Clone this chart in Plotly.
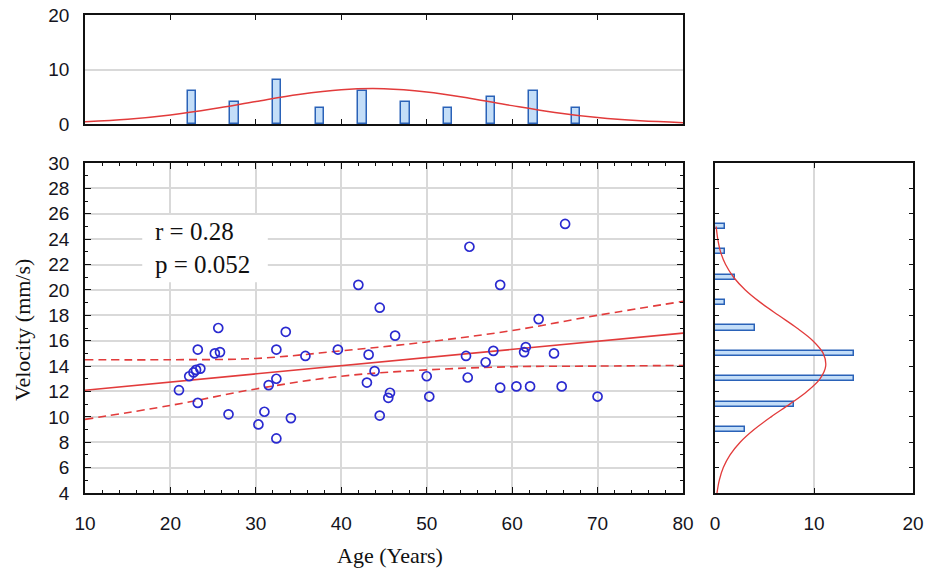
import plotly.graph_objects as go

# ---------------- data ----------------
age = [21.0, 22.2, 22.7, 23.0, 23.5, 23.2, 23.2, 25.6, 25.2, 25.8, 26.8, 30.3, 31.0, 31.5, 32.4, 32.4, 32.4, 33.5, 34.1, 35.8,
       42.0, 44.5, 46.3, 39.6, 43.2, 43.9, 43.0, 45.7, 45.5, 44.5, 50.0, 50.3,
       66.2, 55.0, 58.6, 63.1, 54.6, 57.8, 56.9, 54.8, 61.6, 61.4, 64.9, 58.6, 60.5, 62.1, 65.8, 70.0]
velocity = [12.1, 13.2, 13.5, 13.7, 13.8, 15.3, 11.1, 17.0, 15.0, 15.1, 10.2, 9.4, 10.4, 12.5, 13.0, 15.3, 8.3, 16.7, 9.9, 14.8,
            20.4, 18.6, 16.4, 15.3, 14.9, 13.6, 12.7, 11.9, 11.5, 10.1, 13.2, 11.6,
            25.2, 23.4, 20.4, 17.7, 14.8, 15.2, 14.3, 13.1, 15.5, 15.1, 15.0, 12.3, 12.4, 12.4, 12.4, 11.6]

fit_x = [10, 80]
fit_y = [12.1, 16.6]
band_x = [10, 20, 30, 40, 50, 60, 70, 80]
band_upper = [14.5, 14.5, 14.6, 15.2, 15.9, 16.8, 18.0, 19.1]
band_lower = [9.8, 10.9, 12.2, 13.2, 13.7, 13.95, 14.0, 14.05]

age_bins = [22.5, 27.5, 32.5, 37.5, 42.5, 47.5, 52.5, 57.5, 62.5, 67.5]
age_counts = [6, 4, 8, 3, 6, 4, 3, 5, 6, 3]
age_curve_x = [10, 15, 20, 25, 30, 35, 40, 45, 50, 55, 60, 65, 70, 75, 80]
age_curve_y = [0.41, 0.88, 1.67, 2.79, 4.14, 5.43, 6.30, 6.47, 5.88, 4.73, 3.37, 2.12, 1.18, 0.58, 0.25]

vel_bins = [9, 11, 13, 15, 17, 19, 21, 23, 25]
vel_counts = [3, 8, 14, 14, 4, 1, 2, 1, 1]
vel_curve_y = [4, 5, 6, 7, 8, 9, 10, 11, 12, 13, 14, 15, 16, 17, 18, 19, 20, 21, 22, 23, 24, 25]
vel_curve_x = [0.20, 0.43, 0.84, 1.52, 2.54, 3.95, 5.67, 7.55, 9.29, 10.6, 11.18, 10.93, 9.88, 8.27,
               6.42, 4.61, 3.06, 1.88, 1.07, 0.56, 0.28, 0.12]

stats_text = "r = 0.28<br>p = 0.052"
x_title = "Age (Years)"
y_title = "Velocity (mm/s)"

# ---------------- styling ----------------
W, H = 926, 575
RED = "#e23b3b"
BLUE_PT = "#2a2ad0"
BAR_FILL = "#c4def8"
BAR_LINE = "#2a62b8"
GRID = "#d9d9d9"
AX = "#111111"
TICKFONT = dict(family="Liberation Sans, Arial, sans-serif", size=19, color="#141420")
SERIF = "Liberation Serif, Times New Roman, serif"

def px_x(p):
    return p / W

def px_y(p):
    return 1 - p / H

main_x = [px_x(85), px_x(683)]
main_y = [px_y(493), px_y(163)]
top_y = [px_y(124), px_y(15)]
right_x = [px_x(715), px_x(913)]

fig = go.Figure()

# main scatter panel
fig.add_trace(go.Scatter(x=band_x, y=band_upper, mode="lines", line=dict(color=RED, width=1.6, dash="8px,5px", shape="spline"),
                         xaxis="x", yaxis="y", hoverinfo="skip"))
fig.add_trace(go.Scatter(x=band_x, y=band_lower, mode="lines", line=dict(color=RED, width=1.6, dash="8px,5px", shape="spline"),
                         xaxis="x", yaxis="y", hoverinfo="skip"))
fig.add_trace(go.Scatter(x=fit_x, y=fit_y, mode="lines", line=dict(color=RED, width=1.6),
                         xaxis="x", yaxis="y"))
fig.add_trace(go.Scatter(x=age, y=velocity, mode="markers",
                         marker=dict(symbol="circle-open", size=9, color=BLUE_PT, line=dict(width=1.7, color=BLUE_PT)),
                         xaxis="x", yaxis="y"))

# top histogram
fig.add_trace(go.Bar(x=age_bins, y=age_counts, width=1.0,
                     marker=dict(color=BAR_FILL, line=dict(color=BAR_LINE, width=1.5)),
                     xaxis="x2", yaxis="y2"))
fig.add_trace(go.Scatter(x=age_curve_x, y=age_curve_y, mode="lines", line=dict(color=RED, width=1.5, shape="spline"),
                         xaxis="x2", yaxis="y2"))

# right histogram
fig.add_trace(go.Bar(x=vel_counts, y=vel_bins, orientation="h", width=0.4,
                     marker=dict(color=BAR_FILL, line=dict(color=BAR_LINE, width=1.5)),
                     xaxis="x3", yaxis="y3"))
fig.add_trace(go.Scatter(x=vel_curve_x, y=vel_curve_y, mode="lines", line=dict(color=RED, width=1.3, shape="spline"),
                         xaxis="x3", yaxis="y3"))

common = dict(showline=True, linecolor=AX, linewidth=1.5, mirror="allticks", ticks="inside",
              tickcolor=AX, tickfont=TICKFONT, zeroline=False, automargin=False)

fig.update_layout(
    template="none",
    width=W, height=H, margin=dict(l=0, r=0, t=0, b=0, pad=0),
    paper_bgcolor="white", plot_bgcolor="white", showlegend=False, bargap=0,
    xaxis=dict(domain=main_x, anchor="y", range=[10, 80], dtick=10, tick0=10, ticklen=6,
               showgrid=True, gridcolor=GRID, gridwidth=2, ticklabelstandoff=12,
               minor=dict(ticks="inside", dtick=2, ticklen=3, tickcolor=AX, showgrid=False), **common),
    yaxis=dict(domain=main_y, anchor="x", range=[4, 30], dtick=2, tick0=4, ticklen=6,
               showgrid=True, gridcolor=GRID, gridwidth=2, ticklabelstandoff=10,
               minor=dict(ticks="inside", dtick=1, ticklen=3, tickcolor=AX, showgrid=False), **common),
    xaxis2=dict(domain=main_x, anchor="y2", range=[10, 80], dtick=10, tick0=10, ticklen=5,
                showgrid=False, showticklabels=False, **common),
    yaxis2=dict(domain=top_y, anchor="x2", range=[0, 20], dtick=10, ticklen=0,
                showgrid=True, gridcolor=GRID, gridwidth=2, ticklabelstandoff=10, **common),
    xaxis3=dict(domain=right_x, anchor="y3", range=[0, 20], dtick=10, ticklen=5,
                showgrid=True, gridcolor=GRID, gridwidth=2, ticklabelstandoff=12, **common),
    yaxis3=dict(domain=main_y, anchor="x3", range=[4, 30], dtick=2, tick0=4, ticklen=4,
                showgrid=False, showticklabels=False, **common),
    shapes=[dict(type="rect", xref="x", yref="y", x0=16.7, x1=31.4, y0=20.6, y1=25.9,
                 fillcolor="white", line=dict(width=0), layer="between")],
    annotations=[
        dict(text=stats_text, xref="x", yref="y", x=18.0, y=23.3, xanchor="left", yanchor="middle",
             align="left", showarrow=False, font=dict(family=SERIF, size=25, color="#111")),
        dict(text=x_title, xref="paper", yref="paper", x=px_x(390), y=px_y(555), xanchor="center", yanchor="middle",
             showarrow=False, font=dict(family=SERIF, size=22, color="#111")),
        dict(text=y_title, xref="paper", yref="paper", x=px_x(22), y=px_y(330), xanchor="center", yanchor="middle",
             textangle=-90, showarrow=False, font=dict(family=SERIF, size=22, color="#111")),
    ],
)

fig.write_html("out.html")
